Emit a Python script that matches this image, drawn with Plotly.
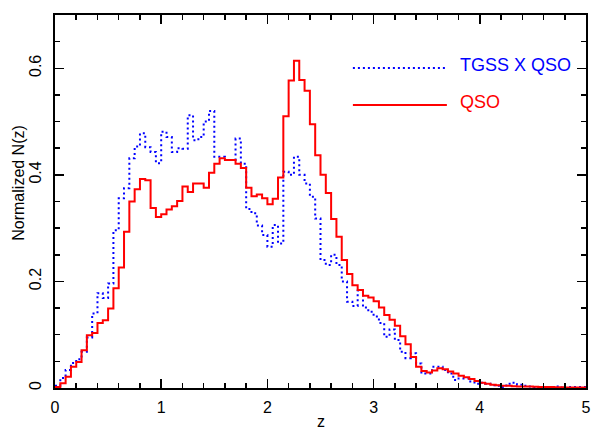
import plotly.graph_objects as go

# Bin definition (z from 0 to 5, width 0.05)
z_start = 0.0
z_width = 0.05
n_bins = 100

# Normalized N(z) for QSO (red, solid)
qso = [0.002, 0.009, 0.021, 0.040, 0.049, 0.071, 0.099, 0.103, 0.122, 0.127,
       0.149, 0.187, 0.226, 0.293, 0.350, 0.373, 0.392, 0.390, 0.338, 0.321,
       0.326, 0.335, 0.341, 0.351, 0.378, 0.368, 0.384, 0.384, 0.376, 0.404,
       0.421, 0.431, 0.428, 0.428, 0.421, 0.413, 0.376, 0.360, 0.363, 0.356,
       0.345, 0.355, 0.395, 0.510, 0.577, 0.614, 0.578, 0.558, 0.495, 0.437,
       0.400, 0.366, 0.317, 0.284, 0.240, 0.214, 0.193, 0.184, 0.173, 0.170,
       0.163, 0.151, 0.137, 0.128, 0.117, 0.097, 0.082, 0.058, 0.040, 0.032,
       0.029, 0.033, 0.037, 0.035, 0.031, 0.027, 0.023, 0.020, 0.017, 0.013,
       0.010, 0.008, 0.006, 0.005, 0.004, 0.004, 0.0035, 0.003, 0.003, 0.003,
       0.0025, 0.002, 0.002, 0.002, 0.0015, 0.0015, 0.001, 0.001, 0.001, 0.001]

# Normalized N(z) for TGSS X QSO (blue, dotted)
tgss = [0.004, 0.019, 0.034, 0.047, 0.054, 0.068, 0.095, 0.140, 0.178, 0.169,
        0.196, 0.296, 0.356, 0.375, 0.431, 0.453, 0.478, 0.452, 0.443, 0.422,
        0.481, 0.471, 0.443, 0.450, 0.449, 0.512, 0.465, 0.471, 0.500, 0.520,
        0.434, 0.434, 0.428, 0.428, 0.468, 0.421, 0.336, 0.328, 0.305, 0.287,
        0.265, 0.306, 0.271, 0.406, 0.400, 0.434, 0.400, 0.384, 0.359, 0.318,
        0.240, 0.231, 0.250, 0.231, 0.200, 0.162, 0.154, 0.183, 0.151, 0.143,
        0.134, 0.122, 0.096, 0.110, 0.090, 0.068, 0.056, 0.065, 0.046, 0.027,
        0.027, 0.040, 0.040, 0.034, 0.027, 0.015, 0.018, 0.018, 0.012, 0.008,
        0.010, 0.008, 0.005, 0.004, 0.002, 0.008, 0.010, 0.006, 0.004, 0.003,
        0.002, 0.002, 0.001, 0.002, 0.003, 0.001, 0.000, 0.002, 0.002, 0.002]

x_ticks = [0, 1, 2, 3, 4, 5]
x_tick_labels = ["0", "1", "2", "3", "4", "5"]
y_ticks = [0, 0.2, 0.4, 0.6]
y_tick_labels = ["0", "0.2", "0.4", "0.6"]

edges = [round(z_start + z_width * i, 4) for i in range(n_bins + 1)]

def step_xy(vals):
    return edges, list(vals) + [vals[-1]]

FONT = "Liberation Sans, Arial, sans-serif"
BLUE = "#0000FF"
RED = "#FF0000"

fig = go.Figure()
xb, yb = step_xy(tgss)
fig.add_trace(go.Scatter(x=xb, y=yb, mode="lines", line_shape="hv",
                         line=dict(color=BLUE, width=2, dash="2px,3px"),
                         name="TGSS X QSO", showlegend=False))
xr, yr = step_xy(qso)
fig.add_trace(go.Scatter(x=xr, y=yr, mode="lines", line_shape="hv",
                         line=dict(color=RED, width=2),
                         name="QSO", showlegend=False))

axis_common = dict(showline=True, linecolor="black", linewidth=2, mirror="ticks",
                   ticks="inside", tickcolor="black", tickwidth=1.5,
                   showgrid=False, zeroline=False, automargin=False,
                   tickfont=dict(family=FONT, size=16, color="black"))

fig.update_xaxes(range=[0, 5], tickvals=x_ticks, ticktext=x_tick_labels, ticklen=9,
                 minor=dict(dtick=0.2, ticklen=5, ticks="inside", tickcolor="black", tickwidth=1.5),
                 ticklabelstandoff=4, ticklabeloverflow="allow", **axis_common)
fig.update_yaxes(range=[0, 0.70], tickvals=y_ticks, ticktext=y_tick_labels, ticklen=9,
                 minor=dict(dtick=0.05, ticklen=5, ticks="inside", tickcolor="black", tickwidth=1.5),
                 tickangle=-90, ticklabelstandoff=6, **axis_common)

# Legend drawn as line samples + text (paper coordinates)
legend_items = [("TGSS X QSO", BLUE, "2px,3px", 0.858, 0.865),
                ("QSO", RED, "solid", 0.759, 0.768)]
for label, col, dash, yl, yt in legend_items:
    fig.add_shape(type="line", xref="paper", yref="paper", x0=0.561, x1=0.738, y0=yl, y1=yl,
                  line=dict(color=col, width=2, dash=dash))
    fig.add_annotation(text=label, xref="paper", yref="paper", x=0.759, y=yt,
                       xanchor="left", yanchor="middle", showarrow=False,
                       font=dict(family=FONT, size=18, color=col))

fig.add_annotation(text="Normalized N(z)", xref="paper", yref="paper", x=-0.068, y=0.55,
                   xanchor="center", yanchor="middle", textangle=-90, showarrow=False,
                   font=dict(family=FONT, size=16, color="black"))
fig.add_annotation(text="z", xref="paper", yref="paper", x=0.5, y=-0.09,
                   xanchor="center", yanchor="middle", showarrow=False,
                   font=dict(family=FONT, size=16, color="black"))

fig.update_layout(width=592, height=431, margin=dict(l=55, r=6, t=15, b=43),
                  paper_bgcolor="white", plot_bgcolor="white", showlegend=False)

# Remove the page's default body margin so the 592x431 figure fills the window.
fig.write_html("out.html",
               config={"displayModeBar": False, "staticPlot": True},
               post_script="document.body.style.margin='0';"
                           "document.documentElement.style.overflow='hidden';"
                           "document.body.style.overflow='hidden';")
